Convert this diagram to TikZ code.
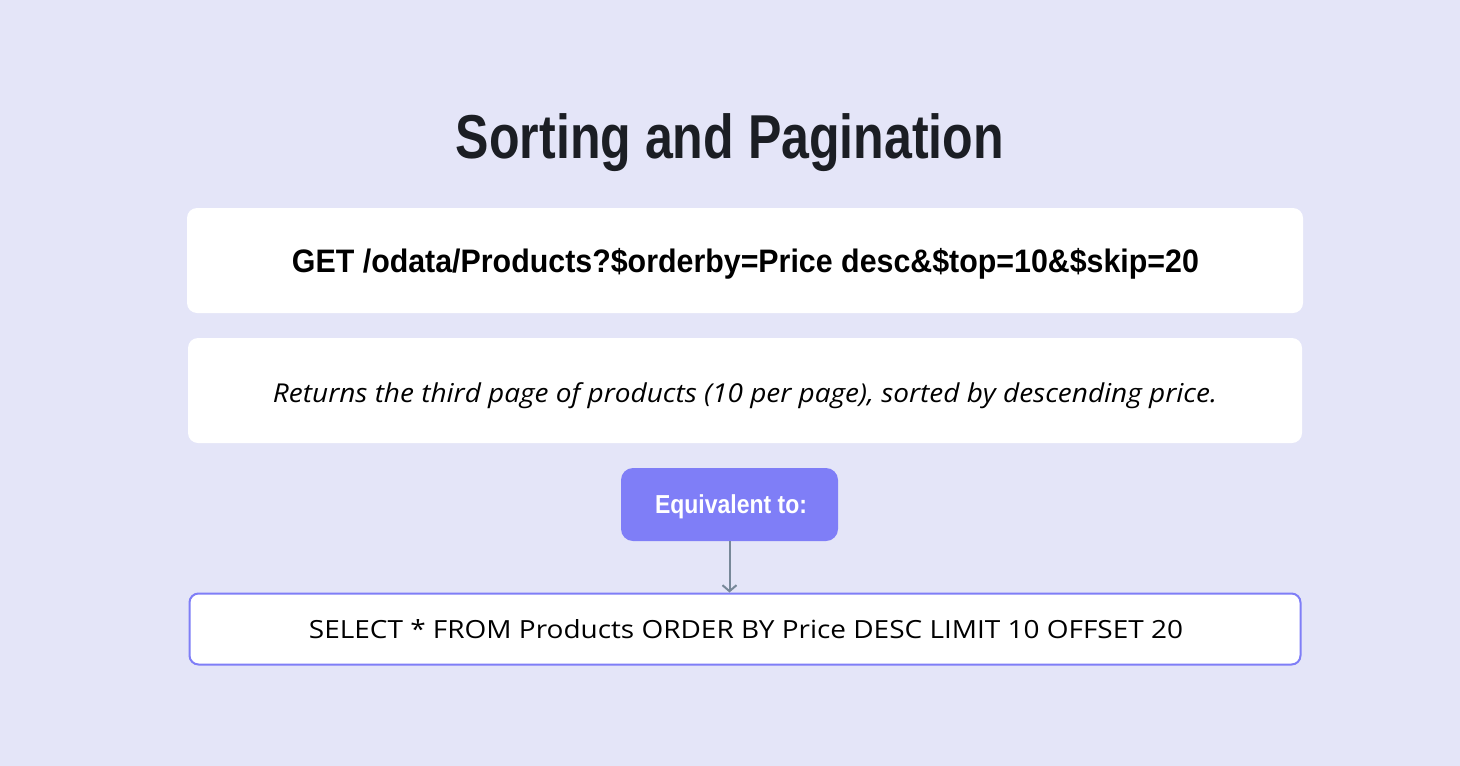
\documentclass[tikz,border=0pt]{standalone}
\usepackage{fontspec}
\usepackage{graphicx}
\setmainfont{Open Sans}
\newfontfamily\condfont[FakeStretch=0.8]{Liberation Sans}
\usetikzlibrary{arrows.meta}
\definecolor{bgcol}{HTML}{E4E5F8}
\definecolor{titlecol}{HTML}{1B1E24}
\definecolor{accent}{HTML}{7F7EF7}
\definecolor{arrowcol}{HTML}{778899}
\newcommand\fitw[2]{\resizebox{#1}{\height}{#2}}
\tikzset{
  card/.style={fill=white, rounded corners=10pt, inner sep=0pt},
  eqbox/.style={fill=accent, rounded corners=12pt, inner sep=0pt, text=white},
  sqlbox/.style={fill=white, draw=accent, line width=2pt, rounded corners=9pt, inner sep=0pt},
  link/.style={draw=arrowcol, line width=2pt, -{Straight Barb[length=6pt,width=14pt,line width=2pt]}}
}
\begin{document}
\begin{tikzpicture}[x=1pt,y=-1pt]
\fill[bgcol] (0,0) rectangle (1460,766);
\useasboundingbox (0,0) rectangle (1460,766);
\node[anchor=base, text=titlecol, inner sep=0pt] (title) at (730,158)
  {\fitw{548pt}{\condfont\bfseries\fontsize{62}{70}\selectfont Sorting and Pagination}};
\node[card, minimum width=1116pt, minimum height=105pt] (get) at (745,260.5) {};
\node[anchor=base, inner sep=0pt] (gettext) at (745.5,272)
  {\fitw{907pt}{\condfont\bfseries\fontsize{32.5}{36}\selectfont GET /odata/Products?\$orderby=Price desc\&\$top=10\&\$skip=20}};
\node[card, minimum width=1114pt, minimum height=105pt] (desc) at (745,390.5) {};
\node[anchor=base, inner sep=0pt] (desctext) at (745,402)
  {\fitw{944pt}{\itshape\fontsize{26}{32}\selectfont Returns the third page of products (10 per page), sorted by descending price.}};
\node[eqbox, minimum width=217pt, minimum height=73pt] (eq) at (729.5,504.5) {};
\node[anchor=base, inner sep=0pt, text=white] (eqtext) at (731,513)
  {\fitw{152pt}{\condfont\bfseries\fontsize{26}{30}\selectfont Equivalent to:}};
\node[sqlbox, minimum width=1111pt, minimum height=71pt] (sql) at (745,629) {};
\node[anchor=base, inner sep=0pt] (sqltext) at (746,638)
  {\fitw{874pt}{\fontsize{25}{30}\selectfont SELECT * FROM Products ORDER BY Price DESC LIMIT 10 OFFSET 20}};
\draw[link] (eq.south) -- (eq.south |- sql.north);
\end{tikzpicture}
\end{document}
